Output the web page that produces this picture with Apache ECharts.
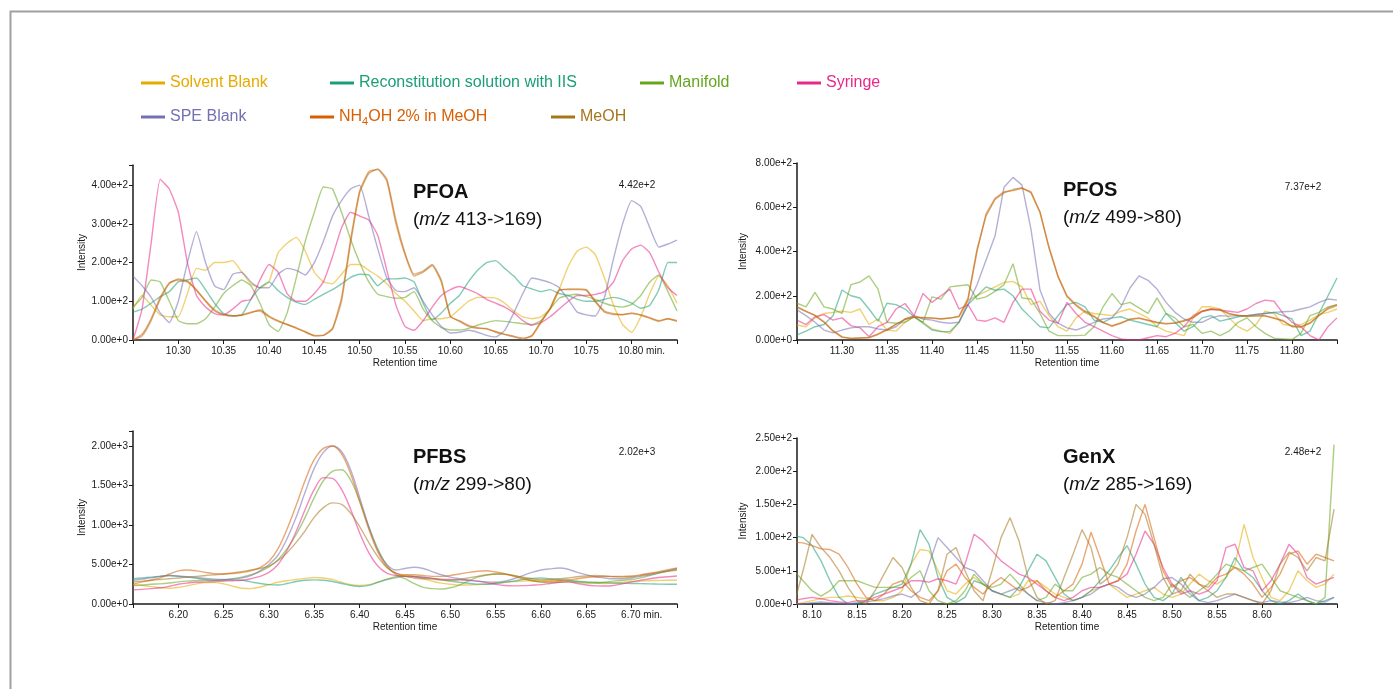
<!DOCTYPE html>
<html><head><meta charset="utf-8">
<script src="https://cdn.jsdelivr.net/npm/echarts@6/dist/echarts.min.js"></script>
<style>html,body{margin:0;padding:0;background:#fff}#c{width:1393px;height:689px}</style>
</head><body><div id="c"></div>
<script>
// ---------- series names / colours ----------
const seriesNames = ['Solvent Blank','Reconstitution solution with IIS','Manifold','Syringe','SPE Blank','NH4OH 2% in MeOH','MeOH'];
const seriesColors = ['#e6ab02','#1b9e77','#66a61e','#e7298a','#7570b3','#d95f02','#a6761d'];

// ---------- PFOA ----------
const pfoaTime = [10.25,10.26,10.27,10.28,10.29,10.30,10.31,10.32,10.33,10.34,10.35,10.36,10.37,10.38,10.39,10.40,10.41,10.42,10.43,10.44,10.45,10.46,10.47,10.48,10.49,10.50,10.51,10.52,10.53,10.54,10.55,10.56,10.57,10.58,10.59,10.60,10.61,10.62,10.63,10.64,10.65,10.66,10.67,10.68,10.69,10.70,10.71,10.72,10.73,10.74,10.75,10.76,10.77,10.78,10.79,10.80,10.81,10.82,10.83,10.84,10.85];
const pfoaSolvent = [80,115,90,65,60,60,120,185,180,200, 200,205,175,145,135,150,225,250,265,230, 175,150,145,170,195,195,180,165,145,120, 100,75,50,55,55,60,80,100,110,110, 108,95,75,60,55,60,80,130,190,230, 240,220,160,90,40,20,60,120,165,140, 95];
const pfoaRecon = [72,80,95,112,125,150,155,160,130,95, 68,63,65,105,135,150,128,110,98,92, 105,118,130,145,162,170,168,140,158,158, 160,150,95,52,70,95,115,150,180,200, 205,185,165,140,132,125,130,120,115,105, 100,100,105,110,105,95,82,90,130,200, 200];
const pfoaManifold = [85,110,155,150,100,50,42,42,55,85, 120,140,155,140,95,40,22,70,160,255, 330,395,390,330,260,200,150,118,112,108, 110,125,80,50,32,26,26,30,38,45, 50,48,45,42,40,50,80,108,115,118, 112,105,95,88,85,92,115,150,168,125, 75];
const pfoaSyringe = [0,80,250,415,390,330,200,115,85,68, 65,80,100,105,155,195,175,120,100,100, 120,150,215,290,330,320,310,270,180,90, 35,25,50,85,115,130,138,130,120,105, 95,85,70,50,38,45,60,80,100,115, 115,118,125,150,205,235,245,225,175,135, 115];
const pfoaSpe = [165,140,110,70,45,100,200,280,200,140, 130,170,175,150,135,135,170,185,180,168, 200,255,320,360,390,400,320,235,160,128, 125,135,100,65,35,18,20,25,20,12, 8,25,70,120,160,155,148,135,105,72, 65,62,110,210,300,360,345,290,240,248, 258];
const pfoaNh4oh = [0,15,55,110,148,155,150,128,100,75, 65,62,65,72,75,60,48,40,30,22, 10,12,30,110,260,385,435,440,410,300, 220,165,175,192,150,60,50,38,32,28, 22,15,10,5,10,45,80,128,132,132, 130,100,75,68,65,70,65,58,50,55, 50];
const pfoaMeoh = [0,10,50,105,145,158,152,130,102,78, 66,62,64,70,78,62,50,40,32,20, 12,12,28,100,250,380,430,442,415,310, 225,170,178,195,155,62,48,35,30,30, 20,14,8,2,12,48,82,130,130,130, 128,98,72,66,66,68,64,56,48,55, 48];
const pfoaXTicks = [10.30,10.35,10.40,10.45,10.50,10.55,10.60,10.65,10.70,10.75,10.80];
const pfoaYTicks = [0,100,200,300,400];

// ---------- PFOS ----------
const pfosTime = [11.25,11.26,11.27,11.28,11.29,11.30,11.31,11.32,11.33,11.34,11.35,11.36,11.37,11.38,11.39,11.40,11.41,11.42,11.43,11.44,11.45,11.46,11.47,11.48,11.49,11.50,11.51,11.52,11.53,11.54,11.55,11.56,11.57,11.58,11.59,11.60,11.61,11.62,11.63,11.64,11.65,11.66,11.67,11.68,11.69,11.70,11.71,11.72,11.73,11.74,11.75,11.76,11.77,11.78,11.79,11.80,11.81,11.82,11.83,11.84,11.85];
const pfosSolvent = [68,60,100,120,125,130,125,140,70,95, 45,40,80,105,80,50,40,30,80,180, 200,220,240,260,265,240,160,175,110,60, 40,100,130,120,115,110,130,140,120,100, 60,40,30,20,100,150,150,140,100,60, 40,70,130,120,70,65,70,90,115,125, 140];
const pfosRecon = [23,40,60,70,110,226,200,190,140,85, 166,160,140,105,76,45,38,38,80,160, 200,240,225,230,200,140,100,60,55,110, 160,170,150,90,80,100,105,90,80,70, 60,120,80,40,60,100,110,85,95,105, 110,115,120,125,110,95,20,40,120,200, 280];
const pfosManifold = [166,150,215,150,140,120,250,262,290,230, 80,76,80,105,80,195,185,240,245,250, 185,195,220,250,345,190,185,120,40,20, 20,20,22,60,150,210,160,170,145,120, 190,120,100,60,70,30,40,20,40,80, 100,60,30,8,5,2,30,110,125,150, 160];
const pfosSyringe = [90,70,105,115,90,100,65,55,15,60, 80,140,165,110,210,170,200,230,140,160, 90,85,100,80,170,230,230,130,90,76, 170,120,80,60,40,20,5,0,0,10, 20,15,30,60,110,130,140,135,130,125, 140,165,180,175,120,80,60,20,0,60, 100];
const pfosSpe = [136,110,80,45,32,45,55,60,60,50, 45,60,95,110,95,90,80,76,80,160, 250,360,470,690,735,700,500,226,121,76, 55,45,60,80,95,100,150,235,290,270, 230,170,125,95,80,80,100,110,108,110, 110,115,120,125,128,130,140,150,170,185, 180];
const pfosNh4oh = [151,130,110,80,40,12,8,8,10,25, 45,70,95,105,100,100,95,100,105,180, 400,570,640,670,675,685,670,580,420,290, 200,160,130,108,80,62,75,95,100,90, 80,75,75,85,100,130,140,138,120,110, 108,110,110,100,88,62,58,75,110,145, 160];
const pfosMeoh = [148,128,112,82,42,15,6,10,12,28, 48,72,92,102,102,98,96,98,108,190, 410,560,635,665,680,688,665,575,415,285, 195,155,125,105,78,65,78,92,98,88, 78,72,78,88,102,128,138,135,118,112, 106,108,108,98,85,60,60,78,112,140, 155];
const pfosXTicks = [11.30,11.35,11.40,11.45,11.50,11.55,11.60,11.65,11.70,11.75,11.80];
const pfosYTicks = [0,200,400,600,800];

// ---------- PFBS ----------
const pfbsTime = [6.15,6.16,6.17,6.18,6.19,6.20,6.21,6.22,6.23,6.24,6.25,6.26,6.27,6.28,6.29,6.30,6.31,6.32,6.33,6.34,6.35,6.36,6.37,6.38,6.39,6.40,6.41,6.42,6.43,6.44,6.45,6.46,6.47,6.48,6.49,6.50,6.51,6.52,6.53,6.54,6.55,6.56,6.57,6.58,6.59,6.60,6.61,6.62,6.63,6.64,6.65,6.66,6.67,6.68,6.69,6.70,6.71,6.72,6.73,6.74,6.75];
const pfbsSolvent = [250,235,220,205,200,210,230,255,270,270, 255,225,200,195,215,245,275,295,310,325, 335,330,310,275,245,235,245,275,315,350, 360,350,320,290,265,250,240,240,245,255, 265,275,285,290,295,300,300,295,290,285, 275,265,260,265,275,285,290,295,298,300, 300];
const pfbsRecon = [320,330,340,350,360,350,340,325,310,300, 300,305,300,280,260,245,240,260,285,300, 305,300,285,260,235,222,235,275,310,335, 350,350,340,325,305,290,275,262,252,250, 260,275,290,310,325,330,320,310,300,290, 280,275,270,265,262,260,258,255,252,250, 250];
const pfbsManifold = [230,240,250,255,265,280,290,295,300,300, 305,320,340,370,410,470,560,700,880,1100, 1350,1560,1680,1700,1570,1300,980,700,490,370, 320,260,210,195,190,205,240,290,340,365, 380,380,360,330,300,280,270,275,280,275, 265,265,275,290,300,310,330,360,390,420, 450];
const pfbsSyringe = [180,185,195,205,225,250,265,275,280,285, 290,295,300,320,350,400,500,680,920,1200, 1450,1600,1590,1450,1200,900,650,480,390,360, 350,345,335,325,315,310,305,300,290,270, 250,235,230,232,238,245,260,275,280,260, 240,230,228,235,255,280,300,320,335,345, 355];
const pfbsSpe = [300,315,330,350,360,355,345,335,325,315, 310,315,330,360,420,500,620,830,1100,1420, 1720,1920,2000,1930,1700,1350,980,680,500,430, 450,465,450,410,370,340,320,300,290,280, 275,290,320,360,400,430,445,455,440,400, 370,345,330,320,320,330,350,370,395,420, 440];
const pfbsNh4oh = [250,280,300,330,380,420,430,420,400,385, 380,385,400,420,460,540,700,950,1250,1570, 1830,1970,2000,1900,1650,1300,950,660,470,390, 370,370,360,350,350,360,380,400,415,420, 405,385,350,320,295,280,285,295,305,320, 335,345,350,350,350,355,370,390,410,435, 455];
const pfbsMeoh = [280,290,300,310,320,330,340,350,360,370, 380,395,410,430,450,480,550,650,780,930, 1100,1220,1280,1260,1150,980,780,600,460,390, 350,330,320,315,305,300,310,330,350,370, 380,375,360,340,320,305,310,320,330,345, 355,360,355,345,340,345,360,380,400,415, 425];
const pfbsXTicks = [6.20,6.25,6.30,6.35,6.40,6.45,6.50,6.55,6.60,6.65,6.70];
const pfbsYTicks = [0,500,1000,1500,2000];

// ---------- GenX ----------
const genxTime = [8.08,8.09,8.10,8.11,8.12,8.13,8.14,8.15,8.16,8.17,8.18,8.19,8.20,8.21,8.22,8.23,8.24,8.25,8.26,8.27,8.28,8.29,8.30,8.31,8.32,8.33,8.34,8.35,8.36,8.37,8.38,8.39,8.40,8.41,8.42,8.43,8.44,8.45,8.46,8.47,8.48,8.49,8.50,8.51,8.52,8.53,8.54,8.55,8.56,8.57,8.58,8.59,8.60,8.61,8.62,8.63,8.64,8.65,8.66,8.67,8.68];
const genxSolvent = [0,2,5,8,10,10,12,10,8,5, 5,10,20,60,82,80,50,20,15,30, 40,30,20,15,10,15,35,35,25,15, 10,5,10,20,25,30,20,10,15,20, 25,15,10,15,30,45,35,30,40,60, 120,70,40,10,5,20,50,35,25,30, 45];
const genxRecon = [103,100,88,65,35,10,0,0,5,15, 20,25,30,60,112,90,40,10,2,10, 35,30,20,15,10,25,50,75,65,40, 15,5,10,20,35,50,70,88,60,30, 10,5,15,40,20,5,10,20,40,70, 50,40,20,5,0,5,15,5,0,5, 10];
const genxManifold = [50,35,20,12,20,35,35,35,30,25, 25,25,25,40,50,20,5,0,5,20, 45,30,25,30,45,30,15,5,10,30, 20,20,40,45,55,45,40,30,20,10, 5,10,30,20,10,20,30,45,60,55, 50,55,60,40,20,15,10,5,0,10, 240];
const genxSyringe = [5,8,10,8,5,3,2,5,5,10, 15,20,25,35,35,33,38,35,30,60, 105,95,80,65,55,45,40,30,20,10, 5,10,20,25,25,30,35,45,75,110, 90,55,30,15,20,15,20,35,85,90, 55,50,20,35,60,90,75,40,30,35, 40];
const genxSpe = [0,0,2,3,2,1,0,2,3,5, 8,12,15,10,20,60,100,85,70,55, 50,35,20,15,20,25,15,5,2,0, 2,5,10,15,25,30,25,15,10,15, 25,38,40,30,15,5,2,5,10,15, 10,5,2,5,3,2,5,10,5,3, 10];
const genxNh4oh = [93,92,88,83,82,75,55,30,10,5, 15,30,35,20,10,5,20,50,60,40, 25,15,30,40,30,20,25,35,20,10, 20,30,60,108,70,30,35,60,110,150, 100,50,25,35,40,30,25,40,45,55, 45,30,10,25,45,75,80,60,75,70, 65];
const genxMeoh = [0,50,105,85,70,50,25,5,0,20, 45,70,55,25,5,0,20,75,85,50, 20,5,50,100,130,95,40,10,0,5, 40,75,112,85,30,40,60,100,150,135, 90,40,15,20,45,30,20,10,15,15, 10,5,0,20,60,78,70,50,70,65, 143];
const genxXTicks = [8.10,8.15,8.20,8.25,8.30,8.35,8.40,8.45,8.50,8.55,8.60];
const genxYTicks = [0,50,100,150,200,250];

// ---------- build ----------
const FONT = "'Liberation Sans', Arial, Helvetica, sans-serif";
const INK = '#1a1a1a';
const drawOrder = [0,1,2,3,4,6,5];
const panels = [
  {time: pfoaTime, vals: [pfoaSolvent,pfoaRecon,pfoaManifold,pfoaSyringe,pfoaSpe,pfoaNh4oh,pfoaMeoh],
   grid: {left:133, top:165, width:544, height:175}, xMin:10.25, xMax:10.85, xTicks: pfoaXTicks, yMax:452, yTicks: pfoaYTicks, suffix:true, yGap:46, smooth:0.15},
  {time: pfosTime, vals: [pfosSolvent,pfosRecon,pfosManifold,pfosSyringe,pfosSpe,pfosNh4oh,pfosMeoh],
   grid: {left:797, top:163, width:540, height:177}, xMin:11.25, xMax:11.85, xTicks: pfosXTicks, yMax:800, yTicks: pfosYTicks, suffix:false, yGap:49, smooth:false},
  {time: pfbsTime, vals: [pfbsSolvent,pfbsRecon,pfbsManifold,pfbsSyringe,pfbsSpe,pfbsNh4oh,pfbsMeoh],
   grid: {left:133, top:431, width:544, height:173}, xMin:6.15, xMax:6.75, xTicks: pfbsXTicks, yMax:2190, yTicks: pfbsYTicks, suffix:true, yGap:46, smooth:0.35},
  {time: genxTime, vals: [genxSolvent,genxRecon,genxManifold,genxSyringe,genxSpe,genxNh4oh,genxMeoh],
   grid: {left:797, top:438, width:540, height:166}, xMin:8.0833, xMax:8.6833, xTicks: genxXTicks, yMax:250, yTicks: genxYTicks, suffix:false, yGap:49, smooth:false}
];

const grids = [], xAxes = [], yAxes = [], series = [];
panels.forEach((p, pi) => {
  grids.push(Object.assign({containLabel:false}, p.grid));
  const lastTick = p.xTicks[p.xTicks.length-1];
  xAxes.push({
    type:'value', gridIndex:pi, min:p.xMin, max:p.xMax,
    name:'Retention time', nameLocation:'middle', nameGap:18,
    nameTextStyle:{fontSize:10, color:INK, fontFamily:FONT},
    axisLine:{show:true, onZero:false, lineStyle:{color:INK, width:1.5}},
    axisTick:{show:true, inside:false, length:4, lineStyle:{color:INK, width:1}, customValues:[p.xMin].concat(p.xTicks, [p.xMax])},
    axisLabel:{show:true, margin:6, fontSize:10, color:INK, fontFamily:FONT, customValues:p.xTicks,
      formatter:(v)=> (p.suffix && Math.abs(v-lastTick)<1e-6) ? '{m|'+v.toFixed(2)+' min.}' : v.toFixed(2),
      rich:{m:{fontSize:10, color:INK, fontFamily:FONT, padding:[0,0,0,20]}}},
    splitLine:{show:false}
  });
  const yTickVals = p.yTicks.indexOf(p.yMax) >= 0 ? p.yTicks : p.yTicks.concat([p.yMax]);
  yAxes.push({
    type:'value', gridIndex:pi, min:0, max:p.yMax,
    name:'Intensity', nameLocation:'middle', nameGap:p.yGap, nameRotate:90,
    nameTextStyle:{fontSize:10, color:INK, fontFamily:FONT},
    axisLine:{show:true, lineStyle:{color:INK, width:1.5}},
    axisTick:{show:true, inside:false, length:4, lineStyle:{color:INK, width:1}, customValues:yTickVals},
    axisLabel:{show:true, margin:5, fontSize:10, color:INK, fontFamily:FONT, customValues:p.yTicks,
      formatter:(v)=> Number(v).toExponential(2)},
    splitLine:{show:false}
  });
  drawOrder.forEach((si) => {
    const vals = p.vals[si];
    series.push({
      type:'line', name:seriesNames[si], xAxisIndex:pi, yAxisIndex:pi,
      data:p.time.map((t,k)=>[t, vals[k]]),
      showSymbol:false, symbol:'none', smooth:p.smooth, clip:true,
      lineStyle:{width:1.4, color:seriesColors[si], opacity:0.55},
      itemStyle:{color:seriesColors[si]},
      emphasis:{disabled:true}, animation:false
    });
  });
});

const legendPos = [[141,75],[330,75],[640,75],[797,75],[141,109],[310,109],[551,109]];
const legends = seriesNames.map((n, i) => ({
  data:[{name:n, textStyle:{color:seriesColors[i]}}],
  left:legendPos[i][0], top:legendPos[i][1], padding:0, itemGap:0,
  icon:'rect', itemWidth:24, itemHeight:3, selectedMode:false,
  itemStyle:{opacity:1},
  textStyle:{fontSize:16, fontFamily:FONT, color:seriesColors[i],
    rich:{a:{fontSize:16, fontFamily:FONT, color:seriesColors[i]}, s:{fontSize:11, fontFamily:FONT, color:seriesColors[i], padding:[9,0,0,0]}}},
  formatter:(name)=> name === 'NH4OH 2% in MeOH' ? '{a|NH}{s|4}{a|OH 2% in MeOH}' : name
}));

const titleRich = {
  b:{fontFamily:FONT, fontSize:20, fontWeight:'bold', lineHeight:27, fill:'#111', color:'#111'},
  n:{fontFamily:FONT, fontSize:19, lineHeight:27, fill:'#111', color:'#111'},
  i:{fontFamily:FONT, fontSize:19, fontStyle:'italic', lineHeight:27, fill:'#111', color:'#111'}
};
const titleTexts = [
  ['{b|PFOA}\n{n|(}{i|m/z}{n| 413->169)}', 413, 179],
  ['{b|PFOS}\n{n|(}{i|m/z}{n| 499->80)}', 1063, 177],
  ['{b|PFBS}\n{n|(}{i|m/z}{n| 299->80)}', 413, 444],
  ['{b|GenX}\n{n|(}{i|m/z}{n| 285->169)}', 1063, 444]
];
const maxTexts = [['4.42e+2',637,185],['7.37e+2',1303,187],['2.02e+3',637,452],['2.48e+2',1303,452]];

const graphics = [
  {type:'polyline', shape:{points:[[10.5,689],[10.5,11.5],[1393,11.5]]}, style:{stroke:'#a0a0a0', lineWidth:2, fill:null}, silent:true}
];
titleTexts.forEach(t => graphics.push({type:'text', x:t[1], y:t[2], silent:true,
  style:{text:t[0], rich:titleRich, fill:'#111', align:'left', verticalAlign:'top'}}));
maxTexts.forEach(t => graphics.push({type:'text', x:t[1], y:t[2], silent:true,
  style:{text:t[0], font:'10px '+FONT, fill:INK, align:'center', verticalAlign:'middle'}}));

const chart = echarts.init(document.getElementById('c'), null, {renderer:'canvas'});
chart.setOption({
  animation:false,
  backgroundColor:'#ffffff',
  grid:grids, xAxis:xAxes, yAxis:yAxes, series:series,
  legend:legends, graphic:graphics,
  tooltip:{show:false}
});
</script>
</body></html>
